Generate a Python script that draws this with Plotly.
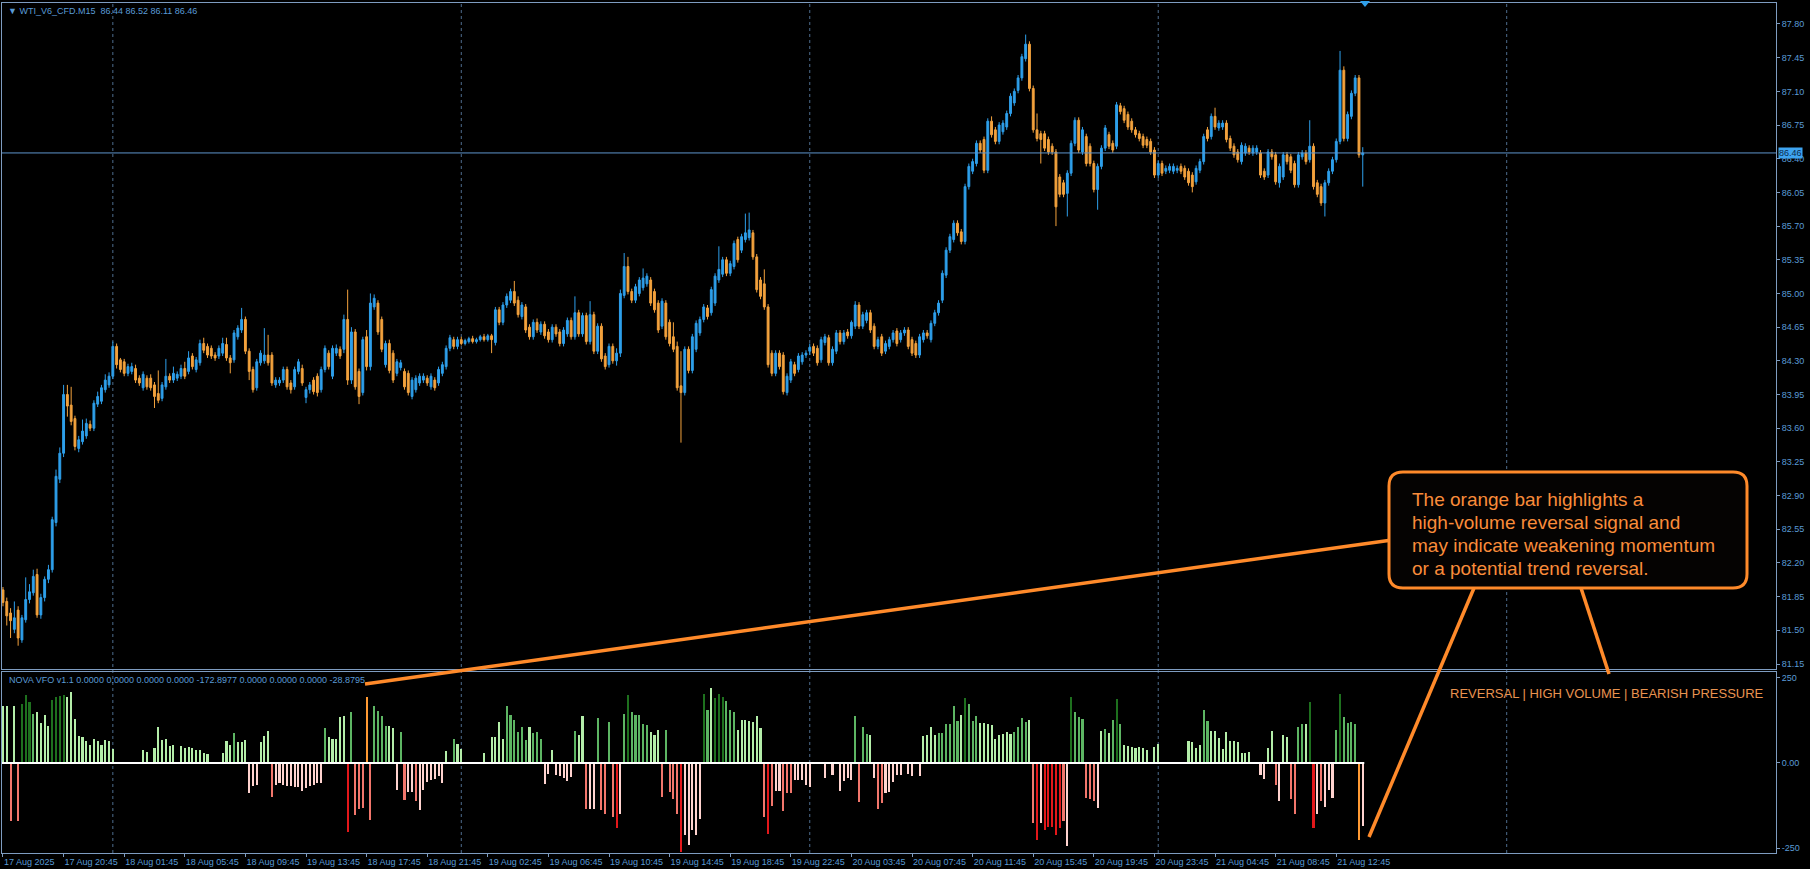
import plotly.graph_objects as go

# ---------------- data ----------------
open_ = [
81.92,81.80,81.68,81.51,81.71,81.40,81.61,81.82,81.89,82.08,
81.66,81.84,82.03,82.13,82.62,83.07,83.34,83.95,83.84,83.70,
83.39,83.46,83.52,83.64,83.60,83.85,83.88,84.00,84.05,84.14,
84.45,84.31,84.29,84.17,84.19,84.22,84.12,84.02,84.12,84.12,
84.05,83.96,83.91,84.03,84.14,84.10,84.12,84.14,84.22,84.19,
84.35,84.21,84.28,84.48,84.45,84.43,84.36,84.35,84.38,84.47,
84.33,84.31,84.55,84.62,84.73,84.40,84.21,84.02,84.28,84.30,
84.36,84.36,84.05,84.07,84.10,84.21,84.07,84.03,84.19,84.22,
83.92,84.00,84.10,84.14,84.00,84.21,84.38,84.14,84.38,84.42,
84.42,84.73,84.10,84.60,84.19,83.97,84.55,84.24,84.86,84.90,
84.73,84.26,84.48,84.38,84.17,84.23,84.19,84.17,83.93,84.00,
84.07,84.10,84.12,84.03,84.10,84.07,84.17,84.24,84.43,84.52,
84.45,84.52,84.48,84.50,84.53,84.50,84.52,84.55,84.52,84.56,
84.49,84.83,84.70,84.88,84.93,85.02,84.93,84.76,84.86,84.65,
84.55,84.70,84.60,84.68,84.60,84.52,84.65,84.60,84.48,84.58,
84.72,84.55,84.80,84.58,84.77,84.50,84.78,84.40,84.66,84.35,
84.26,84.45,84.30,84.38,84.98,85.28,85.02,84.93,85.00,85.06,
85.10,85.14,85.02,84.90,84.66,84.90,84.70,84.55,84.45,84.04,
83.97,84.42,84.20,84.42,84.59,84.73,84.85,84.80,84.90,85.14,
85.20,85.35,85.21,85.28,85.56,85.45,85.56,85.58,85.63,85.38,
85.14,85.10,84.86,84.38,84.17,84.38,84.36,83.97,84.10,84.26,
84.21,84.29,84.36,84.40,84.45,84.43,84.31,84.49,84.54,84.28,
84.40,84.59,84.50,84.60,84.56,84.66,84.88,84.66,84.72,84.80,
84.66,84.45,84.55,84.40,84.45,84.52,84.61,84.52,84.59,84.62,
84.52,84.48,84.36,84.52,84.59,84.52,84.69,84.80,84.93,85.19,
85.45,85.56,85.73,85.64,85.54,86.11,86.27,86.35,86.56,86.60,
86.28,86.79,86.70,86.58,86.68,86.73,86.87,86.98,87.11,87.24,
87.44,87.59,87.13,86.70,86.66,86.66,86.60,86.53,86.47,86.21,
86.15,86.04,86.25,86.56,86.80,86.47,86.63,86.53,86.35,86.08,
86.32,86.51,86.65,86.56,86.53,86.95,86.92,86.86,86.79,86.70,
86.66,86.63,86.60,86.58,86.49,86.23,86.35,86.27,86.28,86.27,
86.28,86.32,86.30,86.27,86.23,86.16,86.28,86.37,86.70,86.63,
86.84,86.72,86.73,86.77,86.61,86.53,86.47,86.37,86.46,86.51,
86.46,86.47,86.46,86.27,86.23,86.47,86.44,86.15,86.21,86.44,
86.42,86.35,86.13,86.42,86.46,86.39,86.53,86.15,86.11,85.94,
86.15,86.27,86.39,86.58,87.32,86.61,86.84,87.08,87.24,86.44]

high = [
81.95,81.84,81.73,81.80,81.75,81.66,82.05,81.98,82.13,82.14,
81.88,82.06,82.18,82.68,83.17,83.40,84.05,84.05,84.03,83.73,
83.52,83.69,83.70,83.68,83.89,83.98,84.05,84.16,84.18,84.50,
84.48,84.33,84.32,84.27,84.28,84.26,84.15,84.19,84.15,84.16,
84.08,84.20,84.08,84.32,84.17,84.24,84.19,84.26,84.29,84.40,
84.38,84.34,84.52,84.54,84.48,84.46,84.39,84.46,84.54,84.54,
84.36,84.62,84.67,84.85,84.76,84.43,84.24,84.32,84.41,84.64,
84.57,84.39,84.13,84.13,84.24,84.24,84.10,84.24,84.32,84.26,
84.03,84.08,84.13,84.17,84.24,84.46,84.41,84.46,84.47,84.45,
84.78,85.04,84.65,84.63,84.22,84.55,84.62,85.00,84.99,84.93,
84.76,84.51,84.52,84.41,84.32,84.31,84.22,84.20,84.13,84.15,
84.17,84.17,84.15,84.17,84.13,84.24,84.29,84.46,84.57,84.55,
84.55,84.55,84.53,84.55,84.56,84.54,84.57,84.58,84.58,84.58,
84.86,84.86,84.91,85.00,85.05,85.13,84.97,84.91,84.89,84.68,
84.73,84.74,84.71,84.71,84.63,84.68,84.68,84.63,84.65,84.75,
84.75,84.97,84.83,84.80,84.80,84.92,84.81,84.69,84.69,84.38,
84.48,84.48,84.43,85.04,85.42,85.38,85.05,85.10,85.17,85.26,
85.21,85.17,85.05,84.93,84.95,84.93,84.73,84.70,84.50,84.40,
84.45,84.45,84.58,84.72,84.76,84.89,84.88,85.07,85.21,85.49,
85.38,85.38,85.34,85.55,85.59,85.62,85.83,85.84,85.66,85.41,
85.17,85.25,84.89,84.41,84.41,84.41,84.39,84.17,84.32,84.29,
84.38,84.39,84.41,84.48,84.48,84.46,84.55,84.58,84.57,84.45,
84.62,84.62,84.62,84.63,84.72,84.92,84.91,84.81,84.83,84.83,
84.69,84.55,84.58,84.51,84.55,84.62,84.64,84.62,84.65,84.65,
84.55,84.51,84.58,84.62,84.62,84.72,84.83,84.93,85.24,85.48,
85.62,85.76,85.76,85.67,86.14,86.35,86.40,86.59,86.59,86.63,
86.82,86.84,86.73,86.78,86.80,86.90,87.08,87.13,87.27,87.49,
87.69,87.62,87.16,86.87,86.69,86.69,86.63,86.56,86.50,86.24,
86.18,86.28,86.59,86.83,86.83,86.73,86.66,86.56,86.38,86.35,
86.54,86.75,86.68,86.59,86.99,86.98,86.95,86.89,86.82,86.73,
86.69,86.66,86.63,86.61,86.52,86.38,86.38,86.33,86.35,86.35,
86.33,86.35,86.33,86.30,86.26,86.33,86.40,86.66,86.73,86.87,
86.93,86.80,86.80,86.80,86.64,86.56,86.50,86.57,86.56,86.54,
86.54,86.54,86.49,86.30,86.50,86.50,86.47,86.35,86.47,86.47,
86.45,86.38,86.47,86.49,86.49,86.80,86.56,86.18,86.14,86.18,
86.30,86.42,86.61,87.52,87.36,86.89,87.11,87.27,87.27,86.52]

low = [
81.75,81.55,81.42,81.47,81.34,81.37,81.58,81.78,81.86,81.63,
81.62,81.80,81.99,82.10,82.58,83.03,83.30,83.72,83.63,83.37,
83.35,83.43,83.49,83.57,83.57,83.82,83.85,83.97,84.02,84.11,
84.22,84.18,84.14,84.14,84.16,84.07,84.04,83.99,84.00,83.99,
83.81,83.86,83.88,84.00,84.07,84.07,84.09,84.11,84.11,84.16,
84.21,84.18,84.25,84.38,84.33,84.32,84.30,84.32,84.35,84.30,
84.17,84.28,84.52,84.59,84.37,84.10,83.97,83.99,84.25,84.27,
84.25,84.04,84.02,84.04,84.07,84.00,83.96,84.00,84.16,84.04,
83.86,83.96,83.95,83.93,83.97,84.18,84.21,84.11,84.35,84.32,
84.38,84.05,84.06,84.00,83.85,83.94,84.20,84.20,84.83,84.57,
84.39,84.23,84.17,84.07,84.14,84.20,84.00,83.94,83.90,83.97,
84.04,84.07,84.04,84.00,83.99,84.04,84.14,84.21,84.40,84.42,
84.42,84.46,84.46,84.48,84.48,84.48,84.50,84.50,84.50,84.38,
84.46,84.67,84.67,84.85,84.90,84.87,84.75,84.73,84.59,84.52,
84.52,84.59,84.57,84.53,84.49,84.49,84.55,84.45,84.45,84.55,
84.52,84.52,84.55,84.55,84.47,84.47,84.37,84.37,84.29,84.21,
84.23,84.27,84.25,84.34,84.95,84.99,84.90,84.90,84.97,85.03,
85.07,84.87,84.80,84.59,84.63,84.52,84.45,84.39,83.99,83.45,
83.94,84.17,84.17,84.39,84.56,84.70,84.73,84.77,84.87,85.11,
85.17,85.18,85.18,85.25,85.32,85.42,85.53,85.55,85.35,85.01,
84.94,84.83,84.23,84.14,84.14,84.21,83.95,83.94,84.07,84.14,
84.18,84.26,84.33,84.36,84.35,84.25,84.28,84.46,84.25,84.25,
84.37,84.47,84.47,84.53,84.53,84.63,84.63,84.63,84.69,84.59,
84.42,84.42,84.35,84.37,84.42,84.49,84.45,84.49,84.56,84.42,
84.35,84.33,84.33,84.49,84.53,84.49,84.66,84.77,84.90,85.16,
85.42,85.53,85.60,85.51,85.51,86.08,86.24,86.32,86.46,86.25,
86.25,86.62,86.55,86.55,86.65,86.70,86.84,86.95,87.08,87.21,
87.41,87.10,86.67,86.58,86.35,86.48,86.44,86.44,85.70,86.00,
86.00,85.80,86.22,86.53,86.46,86.44,86.32,86.32,86.05,85.87,
86.29,86.48,86.50,86.46,86.50,86.86,86.77,86.70,86.67,86.62,
86.58,86.51,86.51,86.44,86.20,86.20,86.22,86.24,86.25,86.24,
86.25,86.24,86.18,86.12,86.05,86.13,86.25,86.34,86.58,86.60,
86.70,86.69,86.70,86.57,86.48,86.41,86.36,86.34,86.43,86.44,
86.43,86.44,86.20,86.18,86.20,86.39,86.13,86.10,86.18,86.34,
86.25,86.10,86.10,86.39,86.34,86.36,86.08,86.00,85.91,85.80,
86.12,86.24,86.36,86.55,86.58,86.58,86.81,87.05,86.41,86.11]

close = [
81.79,81.65,81.60,81.63,81.42,81.63,81.82,81.90,82.06,81.66,
81.84,82.03,82.13,82.65,83.10,83.34,83.95,83.83,83.67,83.41,
83.48,83.57,83.65,83.60,83.86,83.93,84.02,84.10,84.14,84.45,
84.26,84.21,84.17,84.24,84.24,84.10,84.07,84.16,84.03,84.02,
83.93,83.89,84.05,84.14,84.10,84.17,84.16,84.22,84.14,84.33,
84.24,84.31,84.48,84.41,84.36,84.35,84.33,84.43,84.48,84.33,
84.28,84.59,84.64,84.73,84.40,84.19,84.00,84.29,84.38,84.36,
84.28,84.07,84.10,84.10,84.21,84.03,84.00,84.21,84.29,84.07,
84.00,84.05,83.98,83.97,84.21,84.43,84.24,84.43,84.43,84.35,
84.73,84.10,84.60,84.03,83.93,84.52,84.24,84.90,84.95,84.60,
84.42,84.48,84.20,84.10,84.29,84.28,84.03,83.97,84.10,84.12,
84.14,84.14,84.07,84.14,84.02,84.21,84.26,84.43,84.54,84.45,
84.52,84.48,84.51,84.53,84.50,84.52,84.55,84.52,84.56,84.52,
84.83,84.70,84.88,84.97,85.02,84.90,84.78,84.88,84.62,84.55,
84.70,84.62,84.68,84.56,84.52,84.65,84.58,84.48,84.62,84.72,
84.55,84.80,84.58,84.77,84.50,84.78,84.40,84.66,84.32,84.24,
84.45,84.30,84.38,85.00,85.28,85.02,84.93,85.07,85.14,85.16,
85.18,84.90,84.83,84.62,84.92,84.55,84.48,84.42,84.02,83.97,
84.42,84.20,84.55,84.69,84.73,84.86,84.76,85.04,85.18,85.25,
85.35,85.21,85.31,85.52,85.35,85.59,85.63,85.66,85.38,85.04,
84.97,84.86,84.26,84.17,84.38,84.24,83.98,84.14,84.29,84.17,
84.35,84.36,84.38,84.44,84.38,84.28,84.52,84.55,84.28,84.42,
84.59,84.50,84.59,84.56,84.70,84.88,84.66,84.78,84.80,84.62,
84.45,84.52,84.38,84.48,84.52,84.59,84.48,84.59,84.62,84.45,
84.38,84.36,84.55,84.59,84.56,84.69,84.80,84.90,85.21,85.45,
85.59,85.73,85.63,85.54,86.11,86.32,86.37,86.56,86.49,86.28,
86.79,86.65,86.58,86.75,86.77,86.87,87.05,87.10,87.24,87.46,
87.59,87.13,86.70,86.61,86.60,86.51,86.47,86.47,85.90,86.03,
86.03,86.25,86.56,86.80,86.49,86.70,86.35,86.35,86.08,86.32,
86.51,86.72,86.53,86.49,86.96,86.89,86.80,86.73,86.70,86.65,
86.61,86.54,86.54,86.47,86.23,86.35,86.25,86.30,86.32,86.32,
86.30,86.27,86.21,86.15,86.11,86.30,86.37,86.63,86.61,86.84,
86.73,86.77,86.77,86.60,86.51,86.44,86.39,86.54,86.53,86.47,
86.51,86.51,86.23,86.21,86.47,86.42,86.16,86.32,86.44,86.37,
86.28,86.13,86.44,86.46,86.37,86.53,86.11,86.03,85.94,86.15,
86.27,86.39,86.58,87.32,86.61,86.86,87.08,87.24,86.44,86.46]

vfo = [
167,167,-171,169,-171,174,200,178,144,149,
118,140,110,186,194,198,200,194,208,129,
78,76,64,54,71,64,54,67,64,41,
0,0,0,0,0,0,0,39,32,0,
44,106,69,72,51,53,0,49,44,47,
44,39,37,29,27,0,0,0,29,66,
54,88,61,61,67,-88,-67,-64,62,78,
95,-100,-64,-59,-66,-69,-69,-72,-72,-83,
-74,-69,-66,-59,-59,103,75,72,72,135,
137,-204,149,-152,-135,-132,194,-169,167,152,
137,110,108,103,-78,90,-108,-86,-86,-113,
-139,-80,-57,-51,-47,-39,-59,34,0,70,
55,41,0,0,0,0,0,29,0,76,
76,122,71,169,142,125,90,106,69,105,
88,90,71,-62,-33,39,-36,-39,-44,-54,
-42,93,81,139,-135,-135,-135,131,-137,-149,
120,-159,-191,-149,145,201,149,142,140,115,
113,91,83,98,-101,98,-86,-106,-150,-262,
-211,-241,-196,-211,-164,203,157,221,191,203,
194,181,157,149,98,125,127,123,120,137,
103,-159,-208,-127,-83,-83,-140,-88,-88,-51,
-49,-49,-64,-71,0,0,0,-45,0,-36,
0,-81,-54,-44,-49,137,-116,106,86,83,
-44,-135,-118,-88,-85,-57,-36,-35,0,-32,
-37,0,-37,78,83,105,81,87,87,116,
116,167,123,140,191,173,123,139,118,118,
115,113,72,83,85,91,85,90,106,132,
120,127,-176,-227,-176,-198,-188,-188,-211,-191,
-171,-245,194,150,135,129,-103,-106,-113,-132,
95,100,88,125,188,116,54,51,47,44,
46,44,39,0,47,56,0,0,0,0,
0,0,0,64,61,44,54,157,123,93,
93,73,41,91,66,66,61,29,29,32,
0,0,-34,-47,44,93,-64,-113,83,75,
-106,-149,105,115,116,178,-191,-149,-111,-130,
-80,-103,98,203,134,118,120,115,-227,-186]

# colour class of each histogram bar: L light green, M mid green, D dark green,
# R red, S salmon, P pale pink, O orange (signal), - empty
vfo_class_rows = [
"LLSLSDDDML","LLLDDDDLLL","LLLLLLLLLL","-------LL-","LLLLLL-LLL",
"LLLLL---LL","LMLLLPPPLL","LSPPPPPPPP","PPPPPMLLLL","LRMSSSOSMM",
"MMLLPMSPPS","PPPPPPPL-M","LL-----L-L","LLLMMMMMML","MMMPPLPPPP",
"PMLLSPPMSS","MSRPMDMMMM","MLLLSMSSSR","PPPPPDMLDD","DMMMLLLLLL",
"LSRSPPSSSP","PPPP---P-P","-PPPPMSMML","PSSPPPPP-P","P-PLLLLMMM",
"MMMLDMMMLL","LLLLLLLMMM","MLSRPRRRRR","SPDMMMSSSP","LMLMDMLLLL",
"LLL-LL----","---LLLLMML","LLLLLLLLLL","--PPLLSPLL","SSMMLDRPSP",
"PPMDMMMMOP"]

price_ticks = [81.15, 81.50, 81.85, 82.20, 82.55, 82.90, 83.25, 83.60, 83.95, 84.30,
               84.65, 85.00, 85.35, 85.70, 86.05, 86.40, 86.75, 87.10, 87.45, 87.80]
vfo_ticks = [250, 0, -250]
vfo_tick_text = ["250", "0.00", "-250"]
time_tick_bars = [0, 16, 32, 48, 64, 80, 96, 112, 128, 144, 160, 176, 192, 208,
                  224, 240, 256, 272, 288, 304, 320, 336, 352]
time_tick_labels = ["17 Aug 2025", "17 Aug 20:45", "18 Aug 01:45", "18 Aug 05:45",
                    "18 Aug 09:45", "19 Aug 13:45", "18 Aug 17:45", "18 Aug 21:45",
                    "19 Aug 02:45", "19 Aug 06:45", "19 Aug 10:45", "19 Aug 14:45",
                    "19 Aug 18:45", "19 Aug 22:45", "20 Aug 03:45", "20 Aug 07:45",
                    "20 Aug 11:45", "20 Aug 15:45", "20 Aug 19:45", "20 Aug 23:45",
                    "21 Aug 04:45", "21 Aug 08:45", "21 Aug 12:45"]
grid_bars = [29, 121, 213, 305, 397]
last_price = 86.46
header_text = "\u25BC WTI_V6_CFD.M15  86.44 86.52 86.11 86.46"
vfo_header = ("NOVA VFO v1.1 0.0000 0.0000 0.0000 0.0000 -172.8977 0.0000 0.0000 "
              "0.0000 -28.8795")
note_lines = ["The orange bar highlights a", "high-volume reversal signal and",
              "may indicate weakening momentum", "or a potential trend reversal."]
signal_text = "REVERSAL | HIGH VOLUME | BEARISH PRESSURE"

vfo_class = "".join(vfo_class_rows)
n = len(close)
assert len(open_) == n == len(high) == len(low) == len(vfo) == len(vfo_class), (
    len(open_), len(high), len(low), len(close), len(vfo), len(vfo_class))
bars = list(range(n))

# ---------------- styling ----------------
W, H = 1810, 869
ML, MR, MT, MB = 2, 34, 3, 16
PW, PH = W - ML - MR, H - MT - MB
FONT = "Liberation Sans"
AXIS_TXT = "#5a9bd6"
FRAME = "#7e9cc0"
ORANGE = "#ff8a2a"
COLMAP = {"L": "#b4eea9", "M": "#5db563", "D": "#1e701e", "R": "#e3171a",
          "S": "#f2766c", "P": "#ffd3cf", "O": "#ff9a33", "-": "rgba(0,0,0,0)"}


def px(x):
    return (x - ML) / PW


def py(y):
    return (H - MB - y) / PH


fig = go.Figure()
fig.add_trace(go.Candlestick(
    x=bars, open=open_, high=high, low=low, close=close,
    increasing=dict(line=dict(color="#2e9fea", width=1), fillcolor="#2e9fea"),
    decreasing=dict(line=dict(color="#f3a23d", width=1), fillcolor="#f3a23d"),
    whiskerwidth=0, xaxis="x", yaxis="y", hoverinfo="skip", showlegend=False))

fig.add_trace(go.Bar(
    x=bars, y=vfo, marker=dict(color=[COLMAP[c] for c in vfo_class], line=dict(width=0)),
    width=0.55, xaxis="x2", yaxis="y2", hoverinfo="skip", showlegend=False))

fig.add_trace(go.Scatter(
    x=[bars[0] - 0.4, bars[-1] + 0.4], y=[0, 0], mode="lines",
    line=dict(color="#ffffff", width=2), xaxis="x2", yaxis="y2",
    hoverinfo="skip", showlegend=False))

shapes = []
for g in grid_bars:
    shapes.append(dict(type="line", xref="x", yref="paper", x0=g, x1=g, y0=0, y1=1,
                       line=dict(color="#4e6d8e", width=1, dash="dot"), layer="below"))
shapes.append(dict(type="line", xref="paper", yref="y", x0=0, x1=1,
                   y0=last_price, y1=last_price, line=dict(color="#5d94cc", width=1)))

# top shift marker
shapes.append(dict(type="path", xref="paper", yref="paper",
                   path="M %f,%f L %f,%f L %f,%f Z" % (px(1360), py(1), px(1370), py(1),
                                                       px(1365), py(7)),
                   fillcolor="#2e9fea", line=dict(width=0)))

# callout lines
for (x0, y0, x1, y1) in [(1392, 540, 365, 684), (1474, 588, 1369, 837), (1581, 588, 1609, 674)]:
    shapes.append(dict(type="line", xref="paper", yref="paper",
                       x0=px(x0), y0=py(y0), x1=px(x1), y1=py(y1),
                       line=dict(color=ORANGE, width=3.5)))

# rounded callout box
bx0, bx1, by0, by1, r = 1389, 1747, 472, 588, 14
pts = [
    ("M", bx0 + r, by0), ("L", bx1 - r, by0), ("Q", bx1, by0, bx1, by0 + r),
    ("L", bx1, by1 - r), ("Q", bx1, by1, bx1 - r, by1), ("L", bx0 + r, by1),
    ("Q", bx0, by1, bx0, by1 - r), ("L", bx0, by0 + r), ("Q", bx0, by0, bx0 + r, by0)]
path = ""
for p in pts:
    if p[0] == "Q":
        path += "Q %f,%f %f,%f " % (px(p[1]), py(p[2]), px(p[3]), py(p[4]))
    else:
        path += "%s %f,%f " % (p[0], px(p[1]), py(p[2]))
path += "Z"
shapes.append(dict(type="path", xref="paper", yref="paper", path=path,
                   fillcolor="#050302", line=dict(color=ORANGE, width=3)))

ann = []
ann.append(dict(xref="paper", yref="paper", x=px(6), y=py(11), xanchor="left",
                yanchor="middle", text=header_text, showarrow=False,
                font=dict(family=FONT, size=9, color=AXIS_TXT)))
ann.append(dict(xref="paper", yref="paper", x=px(7), y=py(680), xanchor="left",
                yanchor="middle", text=vfo_header, showarrow=False,
                font=dict(family=FONT, size=9, color=AXIS_TXT)))
ann.append(dict(xref="paper", yref="y", x=px(1778), y=last_price, xanchor="left",
                yanchor="middle", text="%.2f" % last_price, showarrow=False,
                bgcolor="#3ea4f0", borderpad=0,
                font=dict(family=FONT, size=9, color="#0c2a4c")))
for k, line in enumerate(note_lines):
    ann.append(dict(xref="paper", yref="paper", x=px(1410), y=py(499 + 23 * k),
                    xanchor="left", yanchor="middle", text=line, showarrow=False,
                    font=dict(family=FONT, size=19, color="#fa8c3a")))
ann.append(dict(xref="paper", yref="paper", x=px(1766), y=py(693), xanchor="right",
                yanchor="middle", text=signal_text, showarrow=False,
                font=dict(family=FONT, size=13, color="#e99350")))

axis_common = dict(showline=True, linecolor=FRAME, linewidth=1, mirror=True,
                   zeroline=False, showgrid=False)
x_range = [-0.26, 468.1]

fig.update_layout(
    width=W, height=H, margin=dict(l=ML, r=MR, t=MT, b=MB, autoexpand=False),
    paper_bgcolor="#000000", plot_bgcolor="#000000",
    font=dict(family=FONT, size=9, color=AXIS_TXT),
    showlegend=False, bargap=0, barmode="overlay", hovermode=False,
    xaxis=dict(domain=[0, 1], anchor="y", range=x_range, showticklabels=False,
               ticks="", rangeslider=dict(visible=False), **axis_common),
    yaxis=dict(domain=[py(669), 1], anchor="x", side="right", range=[81.098, 88.018],
               tickvals=price_ticks, ticktext=["%.2f" % v for v in price_ticks],
               ticks="outside", ticklen=3, tickcolor=FRAME,
               tickfont=dict(family=FONT, size=9, color=AXIS_TXT), **axis_common),
    xaxis2=dict(domain=[0, 1], anchor="y2", range=x_range, matches="x",
                tickvals=time_tick_bars, ticktext=time_tick_labels, tickangle=0,
                ticklabelposition="outside right", ticks="outside", ticklen=3,
                tickcolor=FRAME, tickfont=dict(family=FONT, size=9, color=AXIS_TXT),
                **axis_common),
    yaxis2=dict(domain=[0, py(672)], anchor="x2", side="right", range=[-264.7, 267.6],
                tickvals=vfo_ticks, ticktext=vfo_tick_text, ticks="outside", ticklen=3,
                tickcolor=FRAME, tickfont=dict(family=FONT, size=9, color=AXIS_TXT),
                **axis_common),
    shapes=shapes, annotations=ann)

fig.write_html("out.html", config={"displayModeBar": False}, post_script=(
    "document.documentElement.style.margin='0';document.body.style.margin='0';"
    "document.body.style.padding='0';document.body.style.overflow='hidden';"
    "document.body.style.background='#000';"))
